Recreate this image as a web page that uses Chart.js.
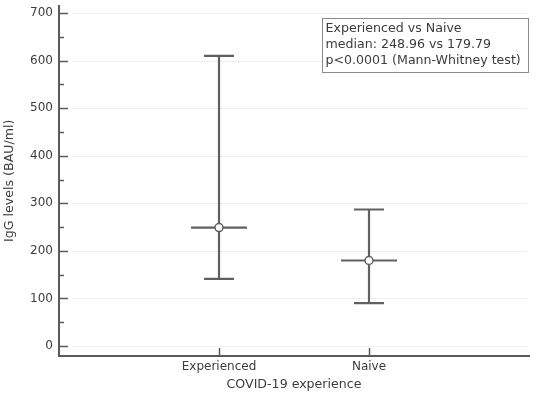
<!DOCTYPE html>
<html>
<head>
<meta charset="utf-8">
<script src="https://cdn.jsdelivr.net/npm/chart.js@4"></script>
<style>
  html, body { margin: 0; padding: 0; background: #fff; }
  #wrap { width: 536px; height: 399px; }
</style>
</head>
<body>
<div id="wrap"><canvas id="chart"></canvas></div>
<script>
// data
const groups = ['Experienced', 'Naive'];
const groupPos = [1, 2];
const medians = [248.96, 179.79];
const lowers = [141, 90];
const uppers = [610, 287];
const yTickValues = [0, 100, 200, 300, 400, 500, 600, 700];
const yMinorValues = [50, 150, 250, 350, 450, 550, 650];
const statLines = [
  'Experienced vs Naive',
  'median: 248.96 vs 179.79',
  'p<0.0001 (Mann-Whitney test)'
];

const axisColor = '#5a5a5a';
const textColor = '#3c3c3c';
const fontFamily = '"DejaVu Sans", Verdana, sans-serif';

// gridlines, inward ticks and error bars
const whiskerPlugin = {
  id: 'whiskers',
  beforeDatasetsDraw(chart) {
    const { ctx, chartArea, scales: { x, y } } = chart;
    ctx.save();
    // light horizontal gridlines
    ctx.strokeStyle = '#eeeeee';
    ctx.lineWidth = 1;
    yTickValues.forEach(v => {
      const py = Math.round(y.getPixelForValue(v)) + 0.5;
      ctx.beginPath();
      ctx.moveTo(chartArea.left + 13, py);
      ctx.lineTo(chartArea.right - 2, py);
      ctx.stroke();
    });
    // inward tick marks
    ctx.strokeStyle = axisColor;
    ctx.lineWidth = 1.5;
    yTickValues.forEach(v => {
      const py = Math.round(y.getPixelForValue(v)) + 0.5;
      ctx.beginPath();
      ctx.moveTo(chartArea.left, py);
      ctx.lineTo(chartArea.left + 9, py);
      ctx.stroke();
    });
    yMinorValues.forEach(v => {
      const py = Math.round(y.getPixelForValue(v)) + 0.5;
      ctx.beginPath();
      ctx.moveTo(chartArea.left, py);
      ctx.lineTo(chartArea.left + 5, py);
      ctx.stroke();
    });
    groupPos.forEach(g => {
      const px = Math.round(x.getPixelForValue(g)) + 0.5;
      ctx.beginPath();
      ctx.moveTo(px, chartArea.bottom);
      ctx.lineTo(px, chartArea.bottom - 8);
      ctx.stroke();
    });
    // error bars
    ctx.strokeStyle = '#606060';
    ctx.lineWidth = 2.2;
    groupPos.forEach((g, i) => {
      const px = Math.round(x.getPixelForValue(g));
      const top = y.getPixelForValue(uppers[i]);
      const bot = y.getPixelForValue(lowers[i]);
      const mid = y.getPixelForValue(medians[i]);
      ctx.beginPath();
      ctx.moveTo(px, top); ctx.lineTo(px, bot);
      ctx.moveTo(px - 15, top); ctx.lineTo(px + 15, top);
      ctx.moveTo(px - 15, bot); ctx.lineTo(px + 15, bot);
      ctx.moveTo(px - 28, mid); ctx.lineTo(px + 28, mid);
      ctx.stroke();
    });
    ctx.restore();
  },
  afterDraw(chart) {
    const { ctx } = chart;
    ctx.save();
    const bx = 322.5, by = 18.5, bw = 206, bh = 54;
    ctx.fillStyle = '#fff';
    ctx.fillRect(bx, by, bw, bh);
    ctx.strokeStyle = '#8a8a8a';
    ctx.lineWidth = 1;
    ctx.strokeRect(bx, by, bw, bh);
    ctx.fillStyle = textColor;
    ctx.font = '12.6px ' + fontFamily;
    ctx.textBaseline = 'middle';
    statLines.forEach((t, i) => ctx.fillText(t, bx + 3, by + 10 + i * 16));
    ctx.restore();
  }
};

new Chart(document.getElementById('chart'), {
  type: 'scatter',
  data: {
    datasets: [{
      data: groupPos.map((g, i) => ({ x: g, y: medians[i] })),
      pointRadius: 4,
      pointHoverRadius: 4,
      pointBackgroundColor: '#fff',
      pointBorderColor: '#606060',
      pointBorderWidth: 1.5
    }]
  },
  options: {
    responsive: true,
    maintainAspectRatio: false,
    animation: false,
    layout: { padding: { top: 0, right: 7, left: 0, bottom: 0 } },
    plugins: { legend: { display: false }, tooltip: { enabled: false } },
    scales: {
      x: {
        type: 'linear',
        min: -0.0667,
        max: 3.0667,
        afterBuildTicks: s => { s.ticks = groupPos.map(v => ({ value: v })); },
        afterFit: s => { s.height = 43; s.paddingLeft = 0; s.paddingRight = 0; },
        grid: { display: false, drawTicks: false },
        border: { color: axisColor, width: 2 },
        ticks: {
          padding: 4,
          color: textColor,
          font: { family: fontFamily, size: 12 },
          callback: v => groups[groupPos.indexOf(v)] || ''
        },
        title: {
          display: true,
          text: 'COVID-19 experience',
          color: textColor,
          font: { family: fontFamily, size: 12.6 },
          padding: { top: 0, bottom: 7 }
        }
      },
      y: {
        min: -21,
        max: 716,
        afterBuildTicks: s => { s.ticks = yTickValues.map(v => ({ value: v })); },
        afterFit: s => { s.width = 59; s.paddingTop = 0; s.paddingBottom = 0; },
        grid: { display: false, drawTicks: false },
        border: { color: axisColor, width: 2 },
        ticks: {
          padding: 6,
          color: textColor,
          font: { family: fontFamily, size: 12 }
        },
        title: {
          display: true,
          text: 'IgG levels (BAU/ml)',
          color: textColor,
          font: { family: fontFamily, size: 12.6 },
          padding: { top: 2, bottom: 0 }
        }
      }
    }
  },
  plugins: [whiskerPlugin]
});
</script>
</body>
</html>
